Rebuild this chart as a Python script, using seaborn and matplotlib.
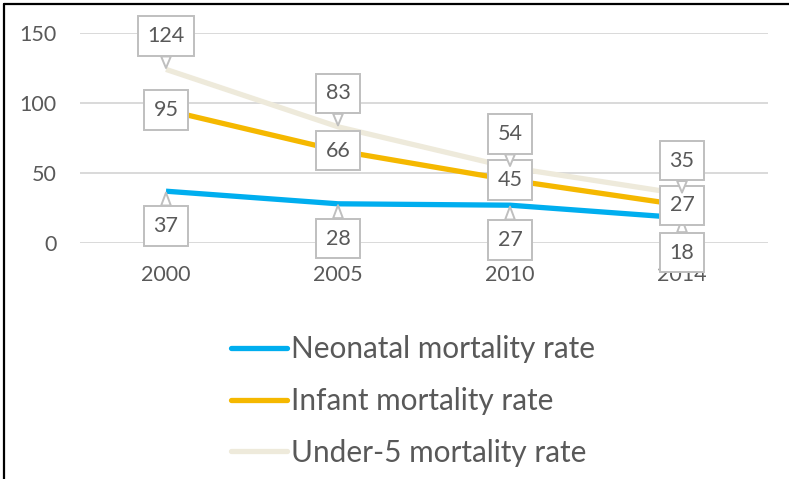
import pandas as pd
import matplotlib.pyplot as plt
import seaborn as sns
from matplotlib.lines import Line2D

# values
years = ["2000", "2005", "2010", "2014"]
neonatal = [37, 28, 27, 18]
infant = [95, 66, 45, 27]
under5 = [124, 83, 54, 35]
series_names = ["Neonatal mortality rate", "Infant mortality rate", "Under-5 mortality rate"]
colors = ["#00AEEF", "#F5B800", "#EEEADB"]

df = pd.DataFrame({
	"year": years * 3,
	"rate": neonatal + infant + under5,
	"series": [s for s in series_names for _ in years],
})

sns.set_theme(style="white")
plt.rcParams["font.family"] = ["Lato", "DejaVu Sans"]
grey = "#595959"

fig = plt.figure(figsize=(7.89, 4.79), dpi=100)
ax = fig.add_axes([80 / 789, 1 - 243 / 479, 688 / 789, 210 / 479])

sns.lineplot(data=df, x="year", y="rate", hue="series", palette=colors,
	linewidth=3.8, ax=ax, legend=False, zorder=3)
for ln in ax.lines:
	ln.set_clip_on(False)
	ln.set_solid_capstyle("butt")

ax.set_xlim(-0.5, 3.5)
ax.set_ylim(0, 150)
ax.set_yticks([0, 50, 100, 150])
ax.grid(axis="y", color="#D9D9D9", linewidth=1.4)
ax.set_axisbelow(True)
for sp in ax.spines.values():
	sp.set_visible(False)
ax.tick_params(axis="y", length=0, pad=17, labelsize=15.5, labelcolor=grey)
ax.tick_params(axis="x", length=0, pad=16, labelsize=15.5, labelcolor=grey)
ax.set_xlabel("")
ax.set_ylabel("")

# callout data labels
box = dict(boxstyle="square,pad=0.45", fc="white", ec="#BFBFBF", lw=1.4)
tail = dict(arrowstyle="wedge,tail_width=0.45", fc="white", ec="#BFBFBF", lw=1.4,
	shrinkA=0, shrinkB=1)
label_setups = [(neonatal, -25), (infant, 0), (under5, 24)]
for vals, dy in label_setups:
	for i, v in enumerate(vals):
		kw = dict(arrowprops=tail) if dy != 0 else {}
		ax.annotate(str(v), xy=(i, v), xytext=(0, dy), textcoords="offset points",
			ha="center", va="center", fontsize=15.5, color=grey, bbox=box,
			annotation_clip=False, zorder=5, **kw)

handles = [Line2D([0], [0], color=c, lw=3.8, solid_capstyle="round") for c in colors]
fig.legend(handles, series_names, loc="center left", bbox_to_anchor=(219 / 789, 1 - 401 / 479),
	frameon=False, fontsize=21.4, labelcolor=grey, handlelength=1.9, handletextpad=0.13,
	labelspacing=0.8, borderaxespad=0)

# outer frame of the cropped picture
fig.add_artist(Line2D([4 / 789, 1], [1 - 4 / 479, 1 - 4 / 479], color="black", lw=1.6,
	transform=fig.transFigure))
fig.add_artist(Line2D([4 / 789, 4 / 789], [0, 1 - 4 / 479], color="black", lw=1.6,
	transform=fig.transFigure))

fig.savefig("out.png", dpi=100, facecolor="white")
